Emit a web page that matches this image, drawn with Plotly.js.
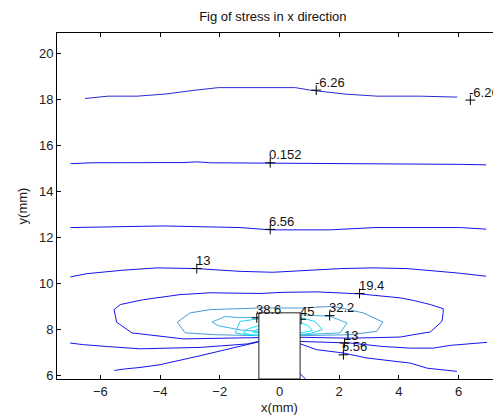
<!DOCTYPE html>
<html><head><meta charset="utf-8">
<script src="https://cdn.plot.ly/plotly-3.0.1.min.js"></script>
<style>html,body{margin:0;padding:0;overflow:hidden;background:#fff;width:493px;height:415px}#c{width:510px;height:415px}</style>
</head><body><div id="c"></div>
<script>
// contour level -6.26
const lvlM626X=[-6.51,-5.74,-4.77,-3.83,-2.82,-2.05,0.53,1.03,2.2,3.27,4.71,5.95];
const lvlM626Y=[18.03,18.13,18.13,18.22,18.39,18.5,18.5,18.39,18.22,18.13,18.13,18.09];
// level 0.152 (upper) and short branch near the block
const lvl0152X=[-7.0,-6.24,-3.23,-2.76,-2.32,1.2,2.37,6.15,6.92];
const lvl0152Y=[15.2,15.24,15.25,15.28,15.24,15.22,15.2,15.17,15.15];
const lvl0152bX=[0.66,0.86,0.93];
const lvl0152bY=[6.13,5.87,5.78];
// level 6.56 upper / lower branches
const lvl656X=[-7.0,-5.0,-3.9,-1.32,-0.31,1.7,3.2,6.05,6.92];
const lvl656Y=[12.43,12.46,12.5,12.43,12.33,12.33,12.43,12.43,12.36];
const lvl656LX=[-5.53,-5.22,-4.67,-4.0,-2.66,-1.09,-0.6];
const lvl656LY=[6.23,6.29,6.36,6.48,6.87,7.35,7.5];
const lvl656RX=[0.6,0.79,1.25,2.13,2.93,4.38,4.94,5.94];
const lvl656RY=[7.43,7.35,7.13,6.99,6.77,6.55,6.33,6.19];
// level 13 upper / lower branches
const lvl13X=[-7.0,-6.45,-5.24,-4.1,-2.77,-1.32,-0.21,2.03,3.13,4.27,5.95,6.92];
const lvl13Y=[10.29,10.43,10.58,10.68,10.65,10.53,10.49,10.65,10.68,10.65,10.46,10.32];
const lvl13LX=[-7.01,-6.57,-5.78,-4.67,-2.66,-1.09,-0.6];
const lvl13LY=[7.42,7.35,7.27,7.17,7.23,7.38,7.52];
const lvl13RX=[0.6,0.69,2.37,3.47,4.38,5.15,5.72,6.95];
const lvl13RY=[7.52,7.49,7.42,7.27,7.2,7.2,7.32,7.45];
// level 19.4 loop
const lvl194X=[-5.54,-5.33,-4.56,-3.33,-2.32,-0.65,0.12,1.26,2.7,4.04,4.48,5.05,5.48,5.48,5.44,5.05,4.48,4.04,2.37,0.69,-0.98,-3.22,-4.94,-5.45,-5.54];
const lvl194Y=[8.87,9.09,9.3,9.52,9.6,9.57,9.62,9.64,9.55,9.38,9.27,9.09,8.91,8.74,8.36,7.9,7.78,7.68,7.63,7.67,7.65,7.6,7.86,8.32,8.87];
// level 25.8 loop
const lvl258X=[-3.42,-2.99,-2.32,-0.65,0.69,1.8,2.8,3.46,3.26,2.37,0.69,-0.76,-2.1,-3.16,-3.42];
const lvl258Y=[8.33,8.73,8.87,8.94,8.94,9.01,8.73,8.33,7.93,7.78,7.74,7.74,7.78,7.86,8.33];
// level 32.2 loop
const lvl322X=[-2.26,-1.82,-1.32,0.0,0.69,1.7,2.26,2.03,0.69,-0.76,-1.32,-2.05,-2.26];
const lvl322Y=[8.33,8.57,8.52,8.55,8.65,8.58,8.29,7.86,7.78,7.91,7.99,8.17,8.33];
// level 38.6 loop
const lvl386X=[-0.6,-0.76,-1.32,-1.48,-1.15,-0.6];
const lvl386Y=[8.46,8.46,8.36,7.86,7.78,7.76];
const lvl386RX=[0.6,0.69,1.2,1.43,1.03,0.6];
const lvl386RY=[8.53,8.53,8.35,8.0,7.83,7.78];
// inner high levels
const lvlHiLX=[-0.6,-1.04,-1.21,-0.98,-0.6];
const lvlHiLY=[8.22,8.04,7.87,7.78,7.74];
const lvlHi2LX=[-0.6,-0.92,-0.6];
const lvlHi2LY=[8.09,7.91,7.83];
const lvlHiRX=[0.6,0.96,1.1,0.6];
const lvlHiRY=[8.35,8.17,7.96,7.83];
// contour label markers and texts
const labX=[1.23,6.39,-0.31,-0.31,-2.77,2.68,1.68,-0.76,0.72,2.18,2.14];
const labY=[18.39,17.96,15.24,12.35,10.65,9.57,8.61,8.51,8.45,7.42,6.91];
const labT=['-6.26','-6.26','0.152','6.56','13','19.4','32.2','38.6','45','13','6.56'];
// block outline (mm)
const blockX=[-0.69,0.69];
const blockTop=8.73;

const dark='#2a2ad0', blue='#1515ee', lb1='#4a9ad6', lb2='#3fb0e4', cy1='#22d2f2', cy2='#00f0ff';
function ln(x,y,c){return {type:'scatter',mode:'lines',x:x,y:y,line:{color:c,width:1},hoverinfo:'skip',showlegend:false};}
const traces=[
 ln(lvlM626X,lvlM626Y,dark),
 ln(lvl0152X,lvl0152Y,blue), ln(lvl0152bX,lvl0152bY,blue),
 ln(lvl656X,lvl656Y,blue), ln(lvl656LX,lvl656LY,blue), ln(lvl656RX,lvl656RY,blue),
 ln(lvl13X,lvl13Y,blue), ln(lvl13LX,lvl13LY,blue), ln(lvl13RX,lvl13RY,blue),
 ln(lvl194X,lvl194Y,blue),
 ln(lvl258X,lvl258Y,lb1),
 ln(lvl322X,lvl322Y,lb2),
 ln(lvl386X,lvl386Y,cy1), ln(lvl386RX,lvl386RY,cy1),
 ln(lvlHiLX,lvlHiLY,cy2), ln(lvlHi2LX,lvlHi2LY,cy2), ln(lvlHiRX,lvlHiRY,cy2),
 {type:'scatter',mode:'markers',x:labX,y:labY,marker:{symbol:'cross-thin',size:7,line:{color:'#000',width:1}},hoverinfo:'skip',showlegend:false}
];
const font={family:'Liberation Sans, Arial, sans-serif',size:13,color:'#222'};
const annotations=labT.map((t,i)=>({x:labX[i],y:labY[i],text:t,showarrow:false,xanchor:'left',yanchor:'middle',xshift:-3,yshift:8,font:{family:font.family,size:13,color:'#111'}}));
const layout={
 width:510,height:415,
 margin:{l:57,r:8,t:33,b:36},
 paper_bgcolor:'#fff',plot_bgcolor:'#fff',
 font:font,
 title:{text:'Fig of stress in x direction',x:0.535,xanchor:'center',y:0.96,yanchor:'middle',font:{family:font.family,size:13,color:'#111'}},
 xaxis:{range:[-7.45,7.45],tickvals:[-6,-4,-2,0,2,4,6],ticks:'inside',ticklen:4,tickcolor:'#000',showline:true,linecolor:'#000',linewidth:1,mirror:'ticks',showgrid:false,zeroline:false,
   title:{text:'x(mm)',standoff:6,font:font},tickfont:font},
 yaxis:{range:[5.86,20.87],tickvals:[6,8,10,12,14,16,18,20],ticks:'inside',ticklen:4,tickcolor:'#000',showline:true,linecolor:'#000',linewidth:1,mirror:'ticks',showgrid:false,zeroline:false,
   title:{text:'y(mm)',standoff:8,font:font},tickfont:font},
 shapes:[{type:'rect',xref:'x',yref:'y',x0:blockX[0],x1:blockX[1],y0:5.86,y1:blockTop,fillcolor:'#fff',line:{color:'#222',width:1},layer:'above'}],
 annotations:annotations
};
Plotly.newPlot('c',traces,layout,{displayModeBar:false,staticPlot:true});
</script></body></html>
